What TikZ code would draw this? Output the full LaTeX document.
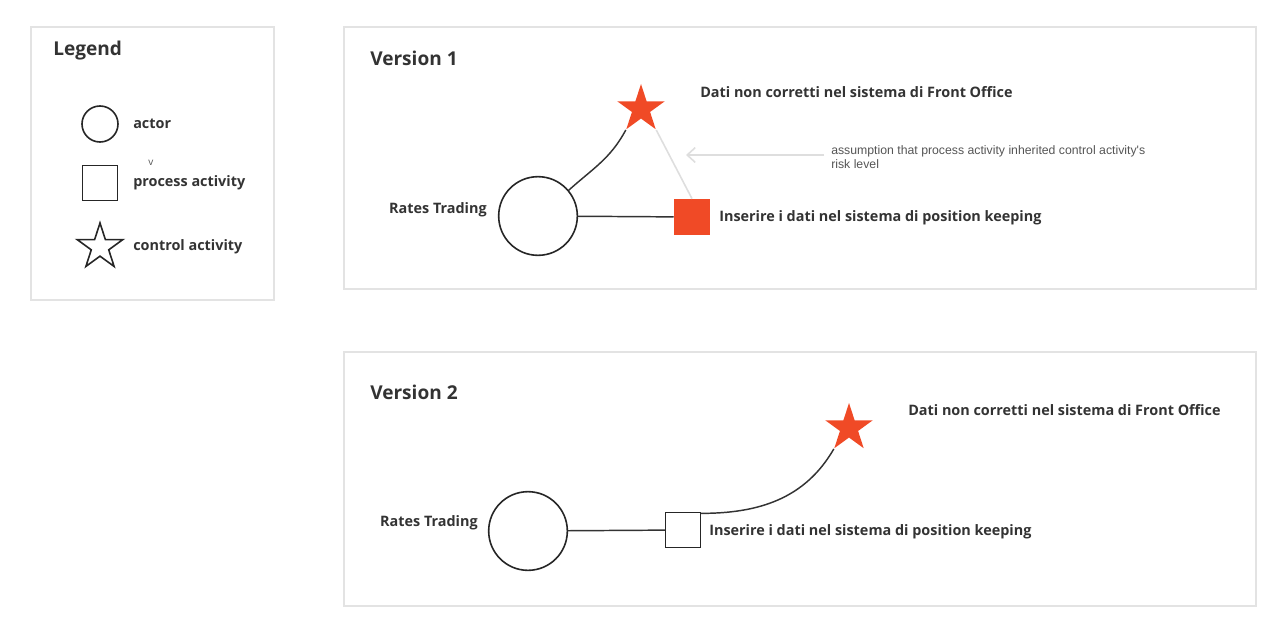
\documentclass[tikz,border=0pt]{standalone}
\usepackage{fontspec}
\setmainfont{Open Sans}
\newfontfamily\notefont{Liberation Sans}
\usetikzlibrary{shapes.geometric,arrows.meta}
\definecolor{boxgray}{HTML}{E3E3E3}
\definecolor{inkgray}{HTML}{333333}
\definecolor{riskred}{HTML}{F04A26}
\definecolor{linkgray}{HTML}{DEDEDE}
\definecolor{notetext}{HTML}{555555}

\begin{document}
\begin{tikzpicture}[x=0.75pt, y=-0.75pt,
    frame/.style={draw=boxgray, line width=1.5pt},
    heading/.style={anchor=west, inner sep=0pt, text=inkgray, font=\bfseries\fontsize{14.3}{17}\selectfont},
    tag/.style={anchor=west, inner sep=0pt, text=inkgray, font=\bfseries\fontsize{10.8}{13}\selectfont},
    actor/.style={circle, draw=black!85, line width=1.2pt, fill=white, inner sep=0pt},
    process/.style={rectangle, draw=black!85, line width=1.2pt, fill=white, inner sep=0pt},
    control/.style={star, star points=5, star point ratio=2.618, inner sep=0pt},
    link/.style={draw=black!80, line width=1.1pt},
    hint/.style={draw=linkgray, line width=1.2pt}
]
\useasboundingbox (0,0) rectangle (1276,631);

% frames
\draw[frame] (31,27) rectangle (274,300);
\draw[frame] (344,27) rectangle (1256,289);
\draw[frame] (344,352) rectangle (1256,606);

% legend
\node[heading] (leg) at (53,51) {Legend};
\node[actor, minimum size=27pt] (legactor) at (100,124) {};
\node[tag] (legactortxt) at (133,124) {actor};
\node[anchor=west, inner sep=0pt, text=notetext, font=\fontsize{7.5}{8}\selectfont] (legv) at (148,163) {v};
\node[process, minimum size=26pt] (legproc) at (100,183) {};
\node[tag] (legproctxt) at (133,183) {process activity};
\node[control, draw=black!85, line width=1.2pt, minimum size=36pt] (legctrl) at (100,247) {};
\node[tag] (legctrltxt) at (133,247) {control activity};

% version 1
\node[heading] (v1) at (370,58) {Version 1};
\node[actor, minimum size=59pt] (rt1) at (538,216) {};
\node[tag, anchor=east] (rt1txt) at (487,210) {Rates Trading};
\node[control, fill=riskred, minimum size=37.5pt] (fo1) at (641,109) {};
\node[tag] (fo1txt) at (700,92) {Dati non corretti nel sistema di Front Office};
\node[rectangle, fill=riskred, inner sep=0pt, minimum size=27pt] (pk1) at (692,217) {};
\node[tag] (pk1txt) at (719,218) {Inserire i dati nel sistema di position keeping};
\node[anchor=north west, inner sep=0pt, align=left, text=notetext, font=\notefont\fontsize{9.2}{10.5}\selectfont] (note) at (831,145) {assumption that process activity inherited control activity's\\risk level};
\coordinate (tip) at (686,155);

\draw[link] (rt1) -- (pk1);
\draw[link] (rt1.40) to[out=42, in=242] (fo1.outer point 3);
\draw[hint] (fo1.outer point 4) -- (pk1.north);
\draw[hint, -{Straight Barb[length=6pt, width=11pt, line width=1.2pt]}] ([xshift=-5pt]note.west |- tip) -- (tip);

% version 2
\node[heading] (v2) at (370,392) {Version 2};
\node[actor, minimum size=59pt] (rt2) at (528,531) {};
\node[tag, anchor=east] (rt2txt) at (478,523) {Rates Trading};
\node[process, minimum size=26pt] (pk2) at (683,530) {};
\node[tag] (pk2txt) at (709,532) {Inserire i dati nel sistema di position keeping};
\node[control, fill=riskred, minimum size=37.5pt] (fo2) at (849,428) {};
\node[tag] (fo2txt) at (908,410) {Dati non corretti nel sistema di Front Office};

\draw[link] (rt2) -- (pk2);
\draw[link] (pk2.north east) ++(0,1.5) coordinate (pk2out) to[out=0, in=240] (fo2.outer point 3);

\end{tikzpicture}
\end{document}
